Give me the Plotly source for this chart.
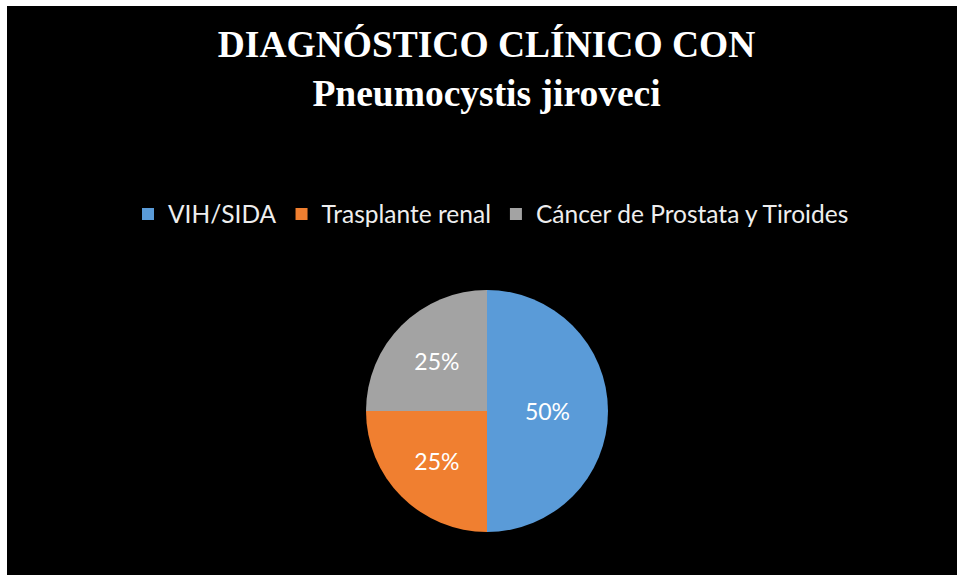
import plotly.graph_objects as go

labels = ["VIH/SIDA", "Trasplante renal", "Cáncer de Prostata y Tiroides"]
values = [50, 25, 25]
colors = ["#5A9BD8", "#F07F30", "#A3A3A3"]
title_lines = ["DIAGNÓSTICO CLÍNICO CON", "Pneumocystis jiroveci"]

W, H = 957, 575

def px_x(x):
    return x / W

def px_y(y):
    return (H - y) / H

fig = go.Figure(go.Pie(
    labels=labels,
    values=values,
    sort=False,
    direction="clockwise",
    rotation=0,
    marker=dict(colors=colors, line=dict(width=0)),
    textinfo="percent",
    textposition="inside",
    insidetextorientation="horizontal",
    textfont=dict(family="Lato", size=23, color="white"),
    domain=dict(x=[px_x(366), px_x(608)], y=[px_y(532), px_y(290)]),
    hoverinfo="label+percent",
))

# white page strips on the left and top edges
fig.add_shape(type="rect", xref="paper", yref="paper", x0=0, x1=px_x(7), y0=0, y1=1,
              fillcolor="white", line=dict(width=0), layer="above")
fig.add_shape(type="rect", xref="paper", yref="paper", x0=0, x1=1, y0=px_y(6), y1=1,
              fillcolor="white", line=dict(width=0), layer="above")

fig.update_layout(
    width=W, height=H,
    margin=dict(l=0, r=0, t=0, b=0),
    paper_bgcolor="black",
    title=dict(
        text="<b>" + title_lines[0] + "<br>" + title_lines[1] + "</b>",
        font=dict(family="Liberation Serif", size=37.5, color="white"),
        x=px_x(486.5), xref="paper", xanchor="center",
        y=1 - 57 / H, yref="container", yanchor="top",
    ),
    legend=dict(
        orientation="h",
        x=px_x(491), xanchor="center",
        y=px_y(214), yanchor="middle",
        font=dict(family="Lato", size=24.5, color="#eeeeee"),
        bgcolor="rgba(0,0,0,0)",
        traceorder="normal",
    ),
)

fig.write_html("out.html", config={"displayModeBar": False},
               post_script="document.body.style.margin='0';")
